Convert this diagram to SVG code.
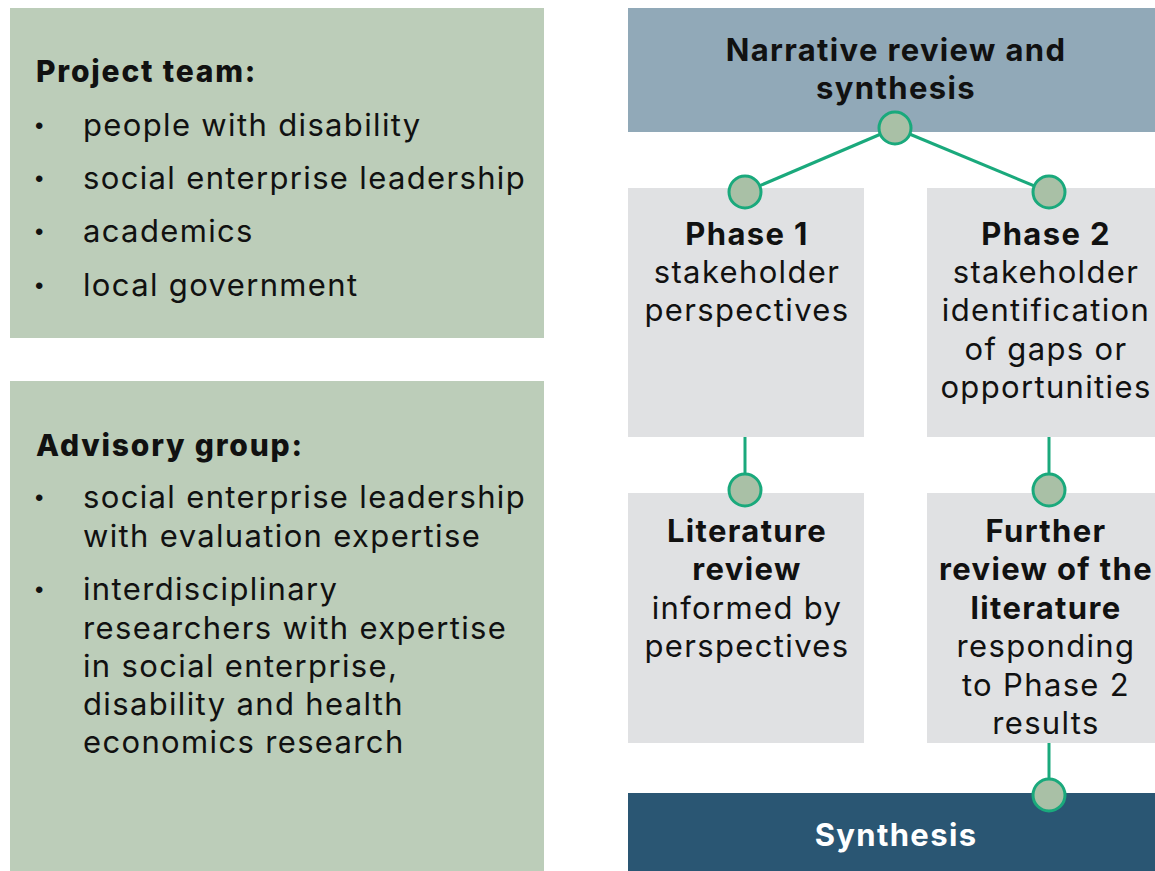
<svg xmlns="http://www.w3.org/2000/svg" width="1155" height="871" viewBox="0 0 1155 871">
  <style>
    .panel { fill: #bccdb9; }
    .step { fill: #e0e1e3; }
    .txt { font-family: "Inter", "Open Sans", "Liberation Sans", sans-serif; font-size: 31px; letter-spacing: 1.35px; fill: #111111; }
    .b { font-weight: 700; }
    .bb { font-weight: 800; font-size: 30px; letter-spacing: 1.8px; }
    .c { text-anchor: middle; }
    .bullet { font-family: "Liberation Sans", sans-serif; font-size: 24px; fill: #111111; }
    .link { stroke: #1aa97c; stroke-width: 3; fill: none; }
    .dot { fill: #a9c0a6; stroke: #1aa97c; stroke-width: 3; }
  </style>
  <rect width="1155" height="871" fill="#ffffff"/>

  <!-- Project team panel -->
  <g id="project-team">
    <rect class="panel" x="10" y="8" width="534" height="330"/>
    <text class="txt bb" x="36" y="82">Project team:</text>
    <g class="bullet">
      <text x="35" y="134">•</text>
      <text x="35" y="187">•</text>
      <text x="35" y="240">•</text>
      <text x="35" y="294">•</text>
    </g>
    <g class="txt">
      <text x="83" y="136">people with disability</text>
      <text x="83" y="189">social enterprise leadership</text>
      <text x="83" y="242">academics</text>
      <text x="83" y="296">local government</text>
    </g>
  </g>

  <!-- Advisory group panel -->
  <g id="advisory-group">
    <rect class="panel" x="10" y="381" width="534" height="490"/>
    <text class="txt bb" x="36" y="456">Advisory group:</text>
    <g class="bullet">
      <text x="35" y="506">•</text>
      <text x="35" y="598">•</text>
    </g>
    <g class="txt">
      <text x="83" y="508">social enterprise leadership</text>
      <text x="83" y="547">with evaluation expertise</text>
      <text x="83" y="600">interdisciplinary</text>
      <text x="83" y="639">researchers with expertise</text>
      <text x="83" y="677">in social enterprise,</text>
      <text x="83" y="715">disability and health</text>
      <text x="83" y="753">economics research</text>
    </g>
  </g>

  <!-- Process boxes -->
  <g id="narrative-review">
    <rect x="628" y="8" width="527" height="124" fill="#91a9b8"/>
    <text class="txt b c" x="896" y="61">Narrative review and</text>
    <text class="txt b c" x="896" y="99">synthesis</text>
  </g>
  <g id="phase-1">
    <rect class="step" x="628" y="188" width="236" height="249"/>
    <text class="txt b c" x="747" y="245">Phase 1</text>
    <text class="txt c" x="747" y="283">stakeholder</text>
    <text class="txt c" x="747" y="321">perspectives</text>
  </g>
  <g id="phase-2">
    <rect class="step" x="927" y="188" width="228" height="249"/>
    <text class="txt b c" x="1046" y="245">Phase 2</text>
    <text class="txt c" x="1046" y="283">stakeholder</text>
    <text class="txt c" x="1046" y="321">identification</text>
    <text class="txt c" x="1046" y="360">of gaps or</text>
    <text class="txt c" x="1046" y="398">opportunities</text>
  </g>
  <g id="literature-review">
    <rect class="step" x="628" y="493" width="236" height="250"/>
    <text class="txt b c" x="747" y="542">Literature</text>
    <text class="txt b c" x="747" y="580">review</text>
    <text class="txt c" x="747" y="619">informed by</text>
    <text class="txt c" x="747" y="657">perspectives</text>
  </g>
  <g id="further-review">
    <rect class="step" x="927" y="493" width="228" height="250"/>
    <text class="txt b c" x="1046" y="542">Further</text>
    <text class="txt b c" x="1046" y="580">review of the</text>
    <text class="txt b c" x="1046" y="619">literature</text>
    <text class="txt c" x="1046" y="657">responding</text>
    <text class="txt c" x="1046" y="696">to Phase 2</text>
    <text class="txt c" x="1046" y="734">results</text>
  </g>
  <g id="synthesis">
    <rect x="628" y="793" width="527" height="78" fill="#2a5673"/>
    <text class="txt b c" x="896" y="846" style="fill:#ffffff">Synthesis</text>
  </g>

  <!-- Connectors -->
  <g id="connectors">
    <line class="link" x1="895" y1="128" x2="745" y2="192"/>
    <line class="link" x1="895" y1="128" x2="1049" y2="192"/>
    <line class="link" x1="745" y1="437" x2="745" y2="490"/>
    <line class="link" x1="1049" y1="437" x2="1049" y2="490"/>
    <line class="link" x1="1049" y1="743" x2="1049" y2="795"/>
    <circle class="dot" cx="895" cy="128" r="16"/>
    <circle class="dot" cx="745" cy="192" r="16"/>
    <circle class="dot" cx="1049" cy="192" r="16"/>
    <circle class="dot" cx="745" cy="490" r="16"/>
    <circle class="dot" cx="1049" cy="490" r="16"/>
    <circle class="dot" cx="1049" cy="795" r="16"/>
  </g>
</svg>
